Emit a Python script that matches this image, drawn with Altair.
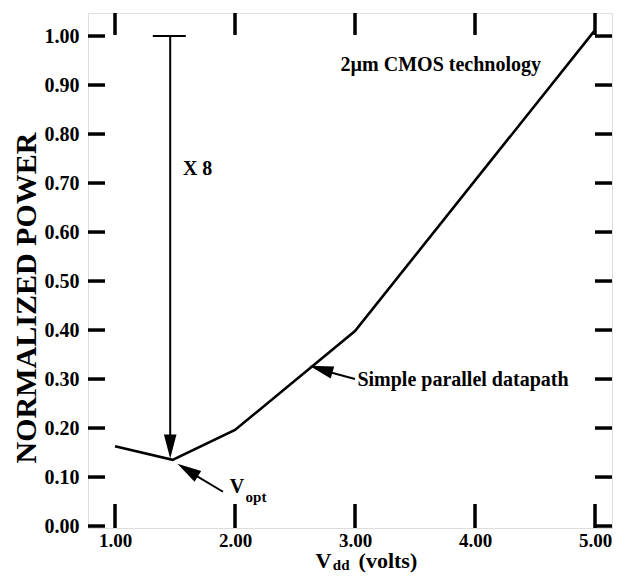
import math
import altair as alt
import pandas as pd

# ---- data ----
vdd = [1.0, 1.48, 2.0, 3.0, 5.0]
power = [0.163, 0.135, 0.196, 0.398, 1.012]

x_ticks = [1.0, 2.0, 3.0, 4.0, 5.0]
y_ticks = [0.0, 0.1, 0.2, 0.3, 0.4, 0.5, 0.6, 0.7, 0.8, 0.9, 1.0]

# arrow shafts (x, y) -> (x2, y2)
seg_x = [1.46, 1.315, 3.00, 1.90]
seg_y = [1.00, 1.00, 0.300, 0.070]
seg_x2 = [1.46, 1.59, 2.73, 1.64]
seg_y2 = [0.175, 1.00, 0.318, 0.108]

# arrow heads: tip position and the tail they come from
head_x = [1.46, 2.62, 1.52]
head_y = [0.138, 0.327, 0.127]
head_from_x = [1.46, 3.00, 1.90]
head_from_y = [1.00, 0.300, 0.070]

# annotation texts (left aligned, alphabetic baseline)
ann_text = ["2\u00b5m CMOS technology", "X 8", "Simple parallel datapath", "V"]
ann_x = [2.88, 1.566, 3.02, 1.956]
ann_y = [0.929, 0.716, 0.286, 0.067]
sub_text = ["opt"]
sub_x = [2.088]
sub_y = [0.050]

FONT = "Liberation Serif"
PX_PER_X = 120.0
W, H = 524, 515
X_DOMAIN = [1 - 27 / PX_PER_X, 1 - 27 / PX_PER_X + W / PX_PER_X]
Y_DOMAIN = [-0.004, 1.047]
PX_X = W / (X_DOMAIN[1] - X_DOMAIN[0])
PX_Y = H / (Y_DOMAIN[1] - Y_DOMAIN[0])

xs = alt.Scale(domain=X_DOMAIN, nice=False, zero=False)
ys = alt.Scale(domain=Y_DOMAIN, nice=False, zero=False)

axis_common = dict(ticks=False, domain=False, grid=False, format=".2f",
                   labelFont=FONT, labelFontWeight="bold",
                   labelColor="black", title=None)

df = pd.DataFrame({"vdd": vdd, "power": power})
line = alt.Chart(df).mark_line(color="black", strokeWidth=2.6).encode(
    x=alt.X("vdd:Q", scale=xs, axis=alt.Axis(values=x_ticks, labelPadding=3,
                                             labelFontSize=19, **axis_common)),
    y=alt.Y("power:Q", scale=ys, axis=alt.Axis(values=y_ticks, labelPadding=9,
                                               labelFontSize=20, **axis_common)),
)

seg_df = pd.DataFrame({"x": seg_x, "y": seg_y, "x2": seg_x2, "y2": seg_y2})
segs = alt.Chart(seg_df).mark_rule(color="black", strokeWidth=2).encode(
    x=alt.X("x:Q", title=None), y=alt.Y("y:Q", title=None), x2="x2:Q", y2="y2:Q"
)

angles = [math.degrees(math.atan2(-(ty - fy) * PX_Y, (tx - fx) * PX_X))
          for tx, ty, fx, fy in zip(head_x, head_y, head_from_x, head_from_y)]
angles = [a % 360 for a in angles]
head_df = pd.DataFrame({"x": head_x, "y": head_y, "angle": angles})
ARROW = "M0,0 L-1.6,-0.42 L-1.6,0.42 Z"
heads = alt.Chart(head_df).mark_point(shape=ARROW, filled=True, fill="black",
                                      strokeWidth=0, opacity=1, size=900).encode(
    x=alt.X("x:Q", title=None), y=alt.Y("y:Q", title=None),
    angle=alt.Angle("angle:Q", scale=None),
)

ann_df = pd.DataFrame({"t": ann_text, "x": ann_x, "y": ann_y})
ann = alt.Chart(ann_df).mark_text(font=FONT, fontWeight="bold", fontSize=20, align="left",
                                  baseline="alphabetic", color="black").encode(
    x=alt.X("x:Q", title=None), y=alt.Y("y:Q", title=None), text="t:N"
)
sub_df = pd.DataFrame({"t": sub_text, "x": sub_x, "y": sub_y})
sub = alt.Chart(sub_df).mark_text(font=FONT, fontWeight="bold", fontSize=15, align="left",
                                  baseline="alphabetic", color="black").encode(
    x=alt.X("x:Q", title=None), y=alt.Y("y:Q", title=None), text="t:N"
)

# ticks pointing inward on all four sides
xt = pd.DataFrame({"v": x_ticks})
yt = pd.DataFrame({"v": y_ticks})
tick_style = dict(color="black", strokeWidth=3.5)
t_bottom = alt.Chart(xt).mark_rule(**tick_style).encode(
    x=alt.X("v:Q", title=None), y=alt.value(H - 24), y2=alt.value(H))
t_top = alt.Chart(xt).mark_rule(**tick_style).encode(
    x=alt.X("v:Q", title=None), y=alt.value(0), y2=alt.value(22))
t_left = alt.Chart(yt).mark_rule(**tick_style).encode(
    y=alt.Y("v:Q", title=None), x=alt.value(0), x2=alt.value(17))
t_right = alt.Chart(yt).mark_rule(**tick_style).encode(
    y=alt.Y("v:Q", title=None), x=alt.value(W - 17), x2=alt.value(W))

# axis titles
ytitle = alt.Chart(pd.DataFrame({"t": ["NORMALIZED POWER"]})).mark_text(
    font=FONT, fontWeight="bold", fontSize=30, angle=270, align="center",
    baseline="middle", color="black").encode(
    text="t:N", x=alt.value(-61), y=alt.value(285))
xt_v = alt.Chart(pd.DataFrame({"t": ["V"], "x": [2.67]})).mark_text(
    font=FONT, fontWeight="bold", fontSize=22, align="left", baseline="alphabetic",
    color="black").encode(text="t:N", x=alt.X("x:Q", title=None), y=alt.value(555))
xt_dd = alt.Chart(pd.DataFrame({"t": ["dd"], "x": [2.815]})).mark_text(
    font=FONT, fontWeight="bold", fontSize=15, align="left", baseline="alphabetic",
    color="black").encode(text="t:N", x=alt.X("x:Q", title=None), y=alt.value(557))
xt_volts = alt.Chart(pd.DataFrame({"t": ["(volts)"], "x": [3.03]})).mark_text(
    font=FONT, fontWeight="bold", fontSize=22, align="left", baseline="alphabetic",
    color="black").encode(text="t:N", x=alt.X("x:Q", title=None), y=alt.value(555))

chart = alt.layer(
    line, segs, heads, ann, sub, t_bottom, t_top, t_left, t_right,
    ytitle, xt_v, xt_dd, xt_volts
).properties(
    width=W, height=H,
    autosize=alt.AutoSizeParams(type="none"),
    padding={"left": 80, "top": 5, "right": 1, "bottom": 46},
).configure_view(stroke="black", strokeWidth=3.5).configure(background="white")

chart.save("out.html", embed_options={"renderer": "svg", "actions": False})
